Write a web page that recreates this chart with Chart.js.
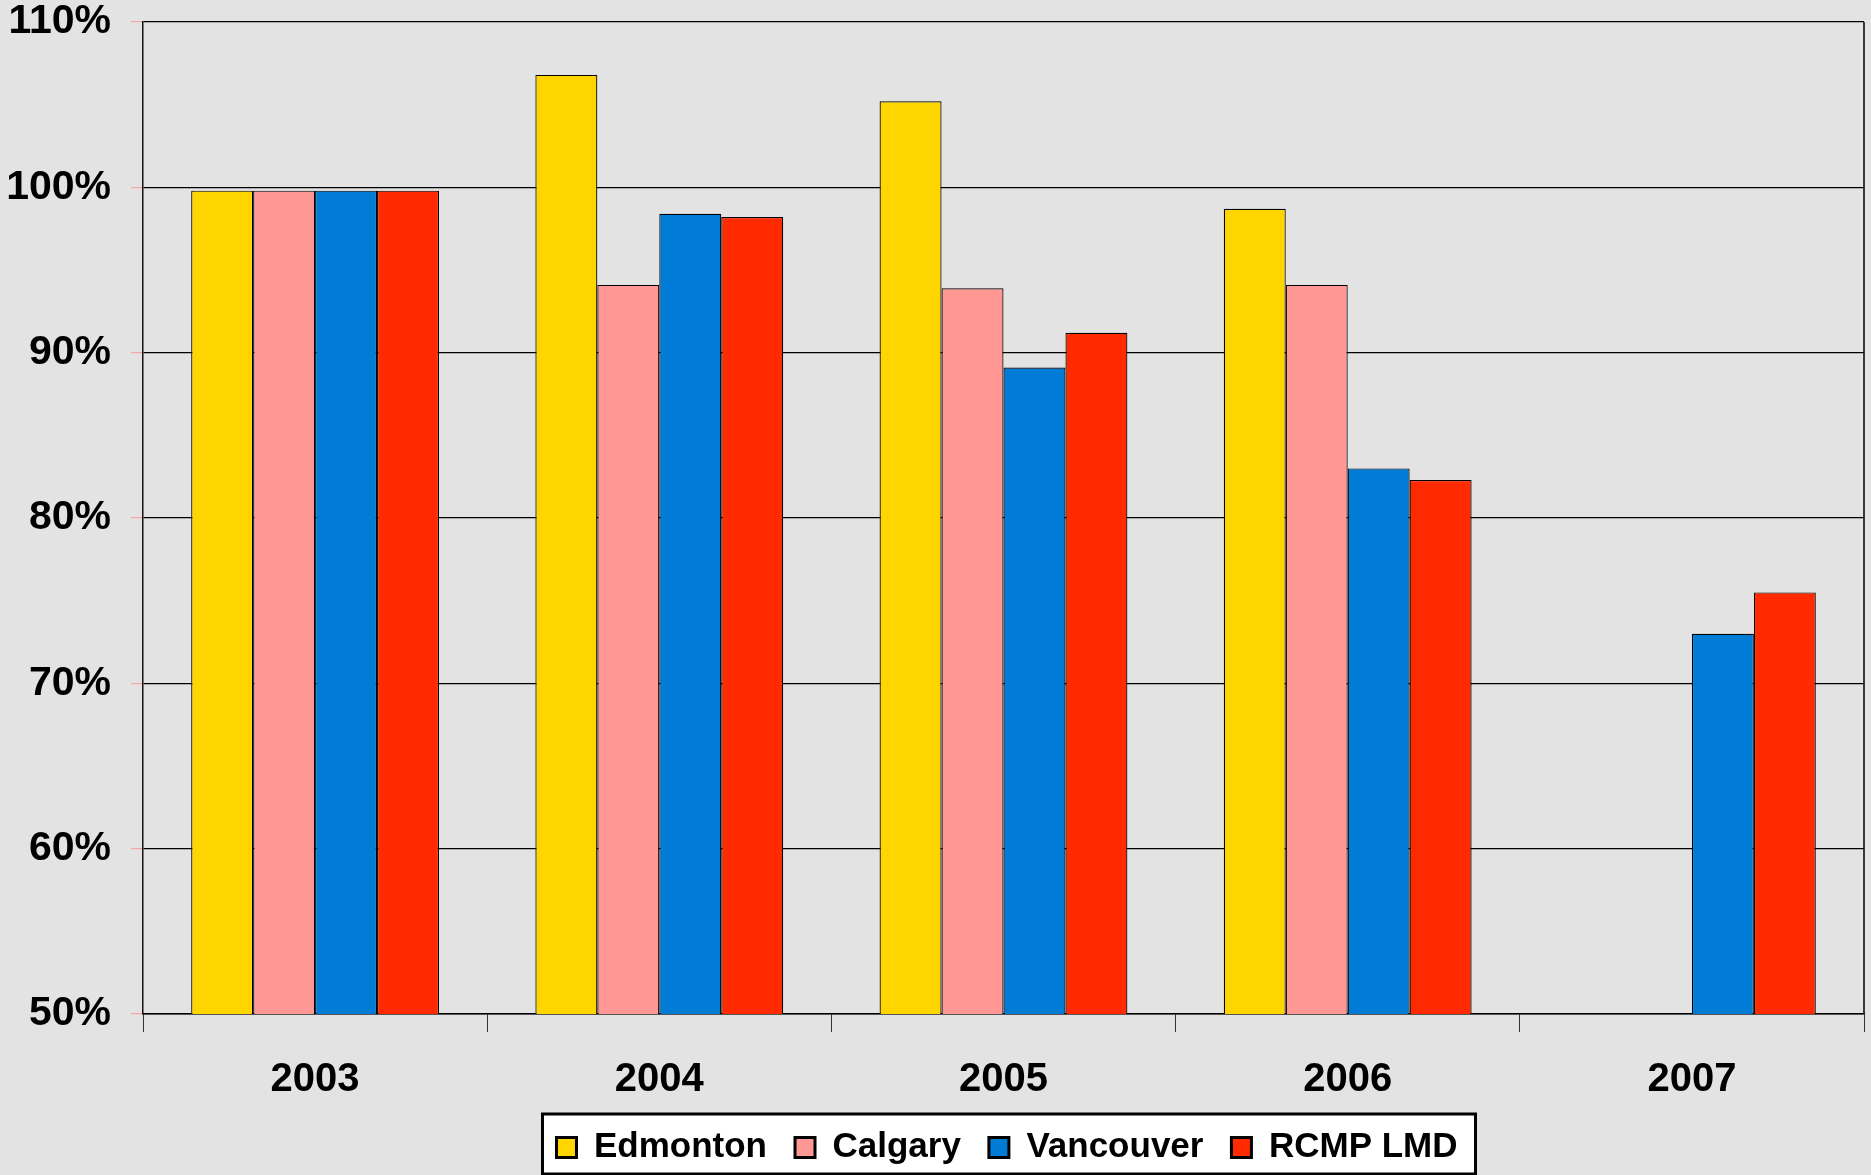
<!DOCTYPE html>
<html>
<head>
<meta charset="utf-8">
<title>Chart</title>
<script src="https://cdn.jsdelivr.net/npm/chart.js@4/dist/chart.umd.min.js"></script>
<style>
  body { margin: 0; background: #e3e3e3; }
  #wrap { width: 1871px; height: 1175px; }
</style>
</head>
<body>
<div id="wrap"><canvas id="bar_chart" width="1871" height="1175"></canvas></div>
<script>
const years = ['2003', '2004', '2005', '2006', '2007'];
const edmonton = [99.8, 106.8, 105.2, 98.7, null];
const calgary = [99.8, 94.1, 93.9, 94.1, null];
const vancouver = [99.8, 98.4, 89.1, 83.0, 73.0];
const rcmpLmd = [99.8, 98.2, 91.2, 82.3, 75.5];
const yTicks = [50, 60, 70, 80, 90, 100, 110];

const font = 'Liberation Sans, Arial, sans-serif';

// grey page, white legend frame, right border of the plot
const framePlugin = {
  id: 'frame',
  afterLayout: (chart) => {
    // legend sits a bit right of the canvas centre in the original
    chart.legend.left += 75;
    chart.legend.right += 75;
  },
  beforeDraw: (chart) => {
    const ctx = chart.ctx;
    ctx.save();
    ctx.fillStyle = '#e3e3e3';
    ctx.fillRect(0, 0, chart.width, chart.height);
    const boxes = chart.legend.legendHitBoxes;
    if (boxes && boxes.length) {
      const left = Math.min(...boxes.map(b => b.left)) - 14;
      const right = Math.max(...boxes.map(b => b.left + b.width)) + 18;
      const top = boxes[0].top - 16;
      const bottom = boxes[0].top + boxes[0].height + 9;
      ctx.fillStyle = '#ffffff';
      ctx.fillRect(left, top, right - left, bottom - top);
      ctx.lineWidth = 3;
      ctx.strokeStyle = '#000000';
      ctx.strokeRect(left, top, right - left, bottom - top);
    }
    ctx.restore();
  },
  afterDraw: (chart) => {
    const ctx = chart.ctx;
    const area = chart.chartArea;
    ctx.save();
    ctx.strokeStyle = '#000000';
    ctx.lineWidth = 1.5;
    ctx.beginPath();
    ctx.moveTo(area.right, area.top);
    ctx.lineTo(area.right, area.bottom);
    ctx.stroke();
    ctx.restore();
  }
};

const makeSet = (label, data, color) => ({
  label: label,
  data: data,
  backgroundColor: color,
  borderColor: '#000000',
  borderWidth: 1.2,
  borderSkipped: false
});

const ctx = document.getElementById('bar_chart');
new Chart(ctx, {
  type: 'bar',
  data: {
    labels: years,
    datasets: [
      makeSet('Edmonton', edmonton, '#ffd500'),
      makeSet('Calgary', calgary, '#ff9794'),
      makeSet('Vancouver', vancouver, '#007bd6'),
      makeSet('RCMP LMD', rcmpLmd, '#ff2a00')
    ]
  },
  options: {
    responsive: false,
    animation: false,
    devicePixelRatio: 1,
    categoryPercentage: 0.72,
    barPercentage: 1,
    layout: { padding: { left: 0, right: 7, top: 22, bottom: 0 } },
    plugins: {
      tooltip: { enabled: false },
      legend: {
        position: 'bottom',
        labels: {
          boxWidth: 20,
          boxHeight: 20,
          padding: 28,
          color: '#000000',
          font: { family: font, size: 35, weight: 'bold' },
          generateLabels: (chart) => {
            const items = Chart.defaults.plugins.legend.labels.generateLabels(chart);
            items.forEach(item => { item.lineWidth = 3; item.strokeStyle = '#000000'; });
            return items;
          }
        }
      }
    },
    scales: {
      x: {
        afterFit: (axis) => { axis.height = 88; },
        grid: {
          offset: true,
          drawOnChartArea: false,
          drawTicks: true,
          tickLength: 18,
          color: '#333333'
        },
        border: { display: true, color: '#000000', width: 1.5 },
        ticks: {
          padding: 24,
          color: '#000000',
          font: { family: font, size: 40, weight: 'bold' }
        }
      },
      y: {
        min: 50,
        max: 110,
        afterFit: (axis) => {
          axis.width = 143;
          axis.paddingTop = 0;
          axis.paddingBottom = 0;
        },
        afterBuildTicks: (axis) => {
          axis.ticks = yTicks.map(v => ({ value: v }));
        },
        grid: {
          color: '#000000',
          lineWidth: 1.2,
          tickLength: 12,
          tickColor: '#f0a8a0'
        },
        border: { display: true, color: '#1a1010', width: 1.5 },
        ticks: {
          padding: 20,
          color: '#000000',
          font: { family: font, size: 41, weight: 'bold' },
          callback: (v) => v + '%'
        }
      }
    }
  },
  plugins: [framePlugin]
});
</script>
</body>
</html>
